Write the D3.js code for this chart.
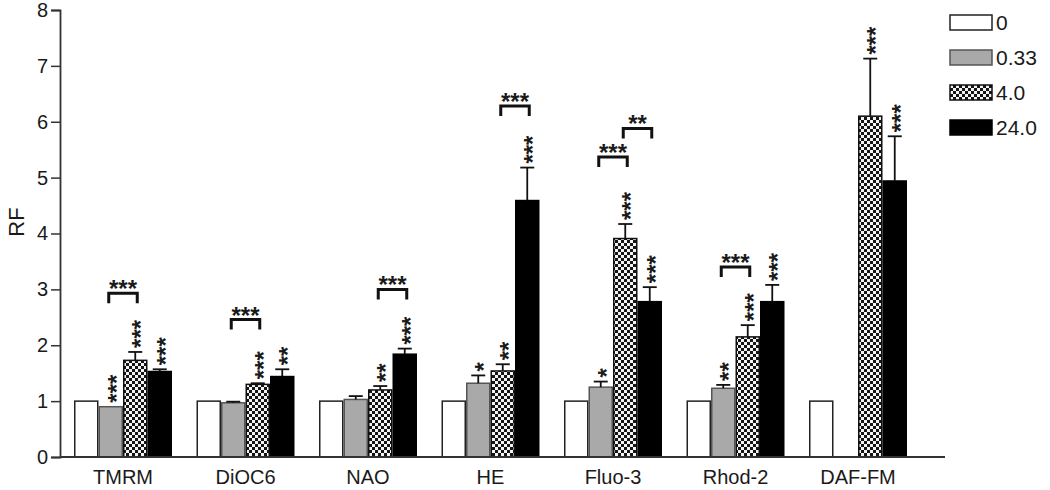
<!DOCTYPE html>
<html><head><meta charset="utf-8">
<script src="https://cdn.jsdelivr.net/npm/d3@7"></script>
<style>body{margin:0;background:#fff}svg{display:block}text{font-family:"Liberation Sans",Arial,sans-serif;fill:#1a1a1a}</style>
</head><body><svg id="c" width="1050" height="490"></svg>
<script>
const categories = ["TMRM","DiOC6","NAO","HE","Fluo-3","Rhod-2","DAF-FM"];
const seriesNames = ["0","0.33","4.0","24.0"];
const values0   = [1,1,1,1,1,1,1];
const values033 = [0.90,0.97,1.03,1.32,1.25,1.23,null];
const values4   = [1.73,1.30,1.20,1.54,3.91,2.15,6.10];
const values24  = [1.53,1.44,1.84,4.59,2.78,2.78,4.94];
const err0   = [0,0,0,0,0,0,0];
const err033 = [0.00,0.02,0.06,0.14,0.10,0.06,null];
const err4   = [0.15,0.02,0.07,0.12,0.26,0.21,1.03];
const err24  = [0.04,0.13,0.10,0.59,0.26,0.30,0.80];
const sig0   = ["","","","","","",""];
const sig033 = ["***","","","*","*","**",""];
const sig4   = ["***","***","**","**","***","***","***"];
const sig24  = ["***","**","***","***","***","***","***"];
// brackets: category, from series, to series, height (RF), label
const bracketCat   = ["TMRM","DiOC6","NAO","HE","Fluo-3","Fluo-3","Rhod-2"];
const bracketFrom  = ["0.33","0.33","4.0","4.0","0.33","4.0","0.33"];
const bracketTo    = ["4.0","4.0","24.0","24.0","4.0","24.0","4.0"];
const bracketY     = [2.93,2.46,3.0,6.28,5.37,5.88,3.4];
const bracketLabel = ["***","***","***","***","***","**","***"];
const yTicks = [0,1,2,3,4,5,6,7,8];

const vals = [values0,values033,values4,values24];
const errs = [err0,err033,err4,err24];
const sigs = [sig0,sig033,sig4,sig24];

const svg = d3.select("#c");
const defs = svg.append("defs");
const pat = defs.append("pattern").attr("id","checker").attr("patternUnits","userSpaceOnUse")
  .attr("width",6).attr("height",6);
pat.append("rect").attr("width",6).attr("height",6).attr("fill","#151515");
pat.append("rect").attr("x",0).attr("y",0).attr("width",3).attr("height",3).attr("fill","#f4f4f4");
pat.append("rect").attr("x",3).attr("y",3).attr("width",3).attr("height",3).attr("fill","#f4f4f4");

const fills = {"0":"#ffffff","0.33":"#a9a9a9","4.0":"url(#checker)","24.0":"#000"};
const strokes = {"0":"#222","0.33":"#555","4.0":"#111","24.0":"#000"};

const y = d3.scaleLinear().domain([0,8]).range([457,10]);
const x0 = d3.scaleBand().domain(categories).range([61.75,919.25]).paddingInner(0.2).paddingOuter(0.1);
const x1 = d3.scaleBand().domain(seriesNames).range([0,x0.bandwidth()]);

// bars
const rows = [];
categories.forEach((c,i)=>seriesNames.forEach((s,j)=>{
  if(vals[j][i]!=null) rows.push({c,s,v:vals[j][i],e:errs[j][i],sig:sigs[j][i]});
}));
const g = svg.append("g");
g.selectAll("rect.bar").data(rows).join("rect").attr("class","bar")
  .attr("x",d=>x0(d.c)+x1(d.s)+0.75).attr("width",x1.bandwidth()-1.5)
  .attr("y",d=>y(d.v)).attr("height",d=>y(0)-y(d.v))
  .attr("fill",d=>fills[d.s]).attr("stroke",d=>strokes[d.s]).attr("stroke-width",1.5);

// error bars
const eb = rows.filter(d=>d.e>0);
const cx = d=>x0(d.c)+x1(d.s)+x1.bandwidth()/2;
g.selectAll("line.ev").data(eb).join("line").attr("x1",cx).attr("x2",cx)
  .attr("y1",d=>y(d.v)).attr("y2",d=>y(d.v+d.e)).attr("stroke","#111").attr("stroke-width",1.8);
g.selectAll("line.ec").data(eb).join("line").attr("x1",d=>cx(d)-7).attr("x2",d=>cx(d)+7)
  .attr("y1",d=>y(d.v+d.e)).attr("y2",d=>y(d.v+d.e)).attr("stroke","#111").attr("stroke-width",1.8);

// significance stars (vertical)
g.selectAll("text.sig").data(rows.filter(d=>d.sig)).join("text")
  .attr("transform",d=>`translate(${cx(d)},${y(d.v+d.e)-4}) rotate(-90)`)
  .attr("dy","0.58em").attr("font-size",24).attr("font-weight","bold").text(d=>d.sig);

// brackets
const br = bracketCat.map((c,i)=>({c,a:bracketFrom[i],b:bracketTo[i],h:bracketY[i],l:bracketLabel[i]}));
const bx = (c,s)=>x0(c)+x1(s)+x1.bandwidth()/2;
g.selectAll("path.br").data(br).join("path")
  .attr("d",d=>{const xa=bx(d.c,d.a)-2,xb=bx(d.c,d.b)+2,yy=y(d.h);return `M${xa},${yy+10}V${yy}H${xb}V${yy+10}`;})
  .attr("fill","none").attr("stroke","#111").attr("stroke-width",3);
g.selectAll("text.brl").data(br).join("text")
  .attr("x",d=>(bx(d.c,d.a)+bx(d.c,d.b))/2).attr("y",d=>y(d.h)+4)
  .attr("text-anchor","middle").attr("font-size",24).attr("font-weight","bold").text(d=>d.l);

// axes
const ya = svg.append("g").attr("transform","translate(60,0)")
  .call(d3.axisLeft(y).tickValues(yTicks).tickSize(9).tickPadding(3).tickFormat(d3.format("d")));
ya.select(".domain").attr("stroke","#333").attr("stroke-width",1.8);
ya.selectAll(".tick line").attr("stroke","#333").attr("stroke-width",1.5);
ya.selectAll(".tick text").attr("font-size",20).attr("fill","#1a1a1a").attr("font-family","Liberation Sans, Arial, sans-serif");

const xa = svg.append("g").attr("transform","translate(0,457)")
  .call(d3.axisBottom(x0).tickSize(0).tickPadding(13));
xa.select(".domain").attr("d","M60,0H945").attr("stroke","#333").attr("stroke-width",1.8);
xa.selectAll(".tick text").attr("font-size",20).attr("fill","#1a1a1a").attr("font-family","Liberation Sans, Arial, sans-serif");

svg.append("text").attr("transform","translate(24,222) rotate(-90)").attr("text-anchor","middle")
  .attr("font-size",22).text("RF");

// legend
const lg = svg.append("g").selectAll("g").data(seriesNames).join("g")
  .attr("transform",(d,i)=>`translate(950,${15+i*35})`);
lg.append("rect").attr("width",42).attr("height",15).attr("fill",d=>fills[d]).attr("stroke",d=>strokes[d]).attr("stroke-width",1.5);
lg.append("text").attr("x",46).attr("y",15).attr("font-size",21).text(d=>d);
</script></body></html>
